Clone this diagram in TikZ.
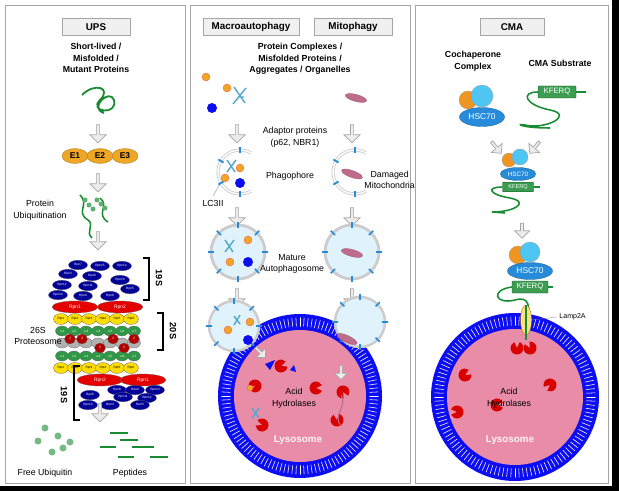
\documentclass[tikz,border=0pt]{standalone}
\usepackage{fontspec}
\setmainfont{Liberation Sans}
\usetikzlibrary{shapes.geometric, shapes.arrows, shapes.misc, positioning}
\definecolor{ubgreen}{rgb}{0.10,0.55,0.20}
\definecolor{eorange}{rgb}{0.93,0.65,0.15}
\definecolor{hscblue}{rgb}{0.15,0.55,0.85}
\definecolor{lysopink}{rgb}{0.91,0.55,0.66}
\definecolor{memblue}{rgb}{0.05,0.05,0.95}
\definecolor{vesicle}{rgb}{0.88,0.95,0.99}
\definecolor{mitopink}{rgb}{0.75,0.42,0.55}

\begin{document}
\begin{tikzpicture}[x=0.05cm, y=-0.05cm]
\tikzstyle{panel} = [draw=gray!70, fill=white, line width=1pt]
\tikzstyle{header} = [draw=gray!70, fill=gray!12, line width=1pt, font=\fontsize{14}{16}\selectfont\bfseries, minimum height=0.85cm, inner sep=1pt]
\tikzstyle{headline} = [font=\fontsize{12.5}{16.5}\selectfont\bfseries, align=center]
\tikzstyle{txt} = [font=\fontsize{12.5}{16.5}\selectfont, align=center]
\tikzstyle{flow} = [single arrow, draw=gray!70, line width=1pt, fill=gray!15, rotate=270, minimum height=0.9cm, minimum width=0.8cm, single arrow head extend=0.07cm, inner sep=0pt]
\tikzstyle{enzyme} = [ellipse, draw=eorange!70!black, fill=eorange, minimum width=1.3cm, minimum height=0.75cm, inner sep=0pt, font=\fontsize{12}{13}\selectfont\bfseries]
\tikzstyle{sub} = [ellipse, draw=black!60, minimum width=0.95cm, minimum height=0.48cm, inner sep=0pt, font=\fontsize{4.5}{5}\selectfont, text=white]
\tikzstyle{hsc} = [ellipse, draw=hscblue!60!black, fill=hscblue, text=white, font=\fontsize{12}{13}\selectfont]
\tikzstyle{kferq} = [rectangle, rounded corners=1pt, draw=ubgreen!60!black, fill=ubgreen!85, text=white, font=\fontsize{11}{12}\selectfont]
\tikzstyle{polypep} = [ubgreen, line width=2.2pt]
\tikzstyle{bracket} = [black, line width=1.5pt]
\tikzstyle{vesmem} = [draw=gray!40, fill=vesicle, line width=1pt]
\tikzstyle{mitoch} = [ellipse, draw=mitopink!80!black, fill=mitopink, inner sep=0pt]

% background and panels
\fill[black] (0,0) rectangle (619,491);
\fill[white] (0,0) rectangle (612,486);
\draw[panel] (5,5) rectangle (185,483);
\draw[panel] (190,5) rectangle (410,483);
\draw[panel] (415,5) rectangle (608,483);

% ---------------- UPS ----------------
\node[header, minimum width=3.4cm] (ups) at (96,27) {UPS};
\node[headline] (substr) at (96,58) {Short-lived /\\Misfolded /\\Mutant Proteins};
\draw[polypep, line width=2.6pt] (82,95) .. controls (95,82) and (112,88) .. (100,100) .. controls (88,112) and (118,116) .. (114,100) .. controls (110,88) and (88,108) .. (104,113);
\node[flow] (a1) at (98,133) {};
\node[enzyme] (e1) at (75,156) {E1};
\node[enzyme] (e2) at (100,156) {E2};
\node[enzyme] (e3) at (125,156) {E3};
\node[flow] (a2) at (98,182) {};
\node[txt] (ubq) at (40,210) {Protein\\Ubiquitination};
\draw[polypep] (80,195) .. controls (90,205) and (75,212) .. (88,220) .. controls (95,225) and (85,232) .. (92,238);
\draw[polypep] (100,198) .. controls (110,206) and (95,214) .. (108,222);
\foreach \p in {(85,200),(89,205),(93,209),(97,200),(101,204),(105,208)}
  \fill[ubgreen!70] \p circle (2.5);
\node[flow] (a3) at (98,240) {};
% 19S lid (top)
\foreach \x/\y/\t in {78/265/Rpn7, 100/266/Rpn15, 122/266/Rpn13, 68/274/Rpn3, 92/276/Rpn6, 120/280/Rpn10, 62/285/Rpn12, 88/286/Rpn11, 130/289/Rpn5, 58/295/Rpn10, 83/296/Rpn9, 110/296/Rpn8}
  \node[sub, fill=blue!60!black] at (\x,\y) {\t};
\node[sub, fill=red!90!black, minimum width=2.3cm, minimum height=0.6cm, font=\fontsize{7}{7}\selectfont] (rpn1) at (75,307) {Rpn1};
\node[sub, fill=red!90!black, minimum width=2.3cm, minimum height=0.6cm, font=\fontsize{7}{7}\selectfont] (rpn2) at (120,307) {Rpn2};
% 20S core
\foreach \i in {1,...,6} {
  \node[sub, fill=yellow!80!orange, minimum width=0.75cm, minimum height=0.55cm, text=black] at (47+\i*14,319) {Rpt\i};
  \node[sub, fill=yellow!80!orange, minimum width=0.75cm, minimum height=0.55cm, text=black] at (47+\i*14,368) {Rpt\i};
}
\foreach \i in {1,...,7} {
  \node[sub, fill=ubgreen!90, minimum width=0.65cm, minimum height=0.5cm] at (50+\i*12,331) {$\alpha$\i};
  \node[sub, fill=ubgreen!90, minimum width=0.65cm, minimum height=0.5cm] at (50+\i*12,356) {$\alpha$\i};
  \node[sub, fill=gray!60, minimum width=0.65cm, minimum height=0.5cm] at (50+\i*12,343) {};
}
\foreach \x in {70,82,113,134}
  \node[sub, fill=red!70!black, minimum width=0.55cm, minimum height=0.5cm] at (\x,339) {$\beta$};
\foreach \x in {100,124}
  \node[sub, fill=red!70!black, minimum width=0.55cm, minimum height=0.5cm] at (\x,348) {$\beta$};
% 19S lid (bottom)
\node[sub, fill=red!90!black, minimum width=2.3cm, minimum height=0.6cm, font=\fontsize{7}{7}\selectfont] (rpn2b) at (100,380) {Rpn2};
\node[sub, fill=red!90!black, minimum width=2.3cm, minimum height=0.6cm, font=\fontsize{7}{7}\selectfont] (rpn1b) at (143,380) {Rpn1};
\foreach \x/\y/\t in {117/390/Rpn8, 135/390/Rpn9, 155/390/Rpn10, 90/395/Rpn6, 123/397/Rpn11, 147/398/Rpn12, 88/405/Rpn13, 110/405/Rpn3, 140/405/Rpn5}
  \node[sub, fill=blue!60!black] at (\x,\y) {\t};
\draw[bracket] (143,258) -- (149,258) -- (149,300) -- (143,300);
\node[rotate=270, font=\fontsize{13}{14}\selectfont\bfseries] (s19a) at (159,278) {19S};
\draw[bracket] (157,313) -- (163,313) -- (163,350) -- (157,350);
\node[rotate=270, font=\fontsize{13}{14}\selectfont\bfseries] (s20) at (173,331) {20S};
\draw[bracket] (80,366) -- (74,366) -- (74,420) -- (80,420);
\node[rotate=270, font=\fontsize{13}{14}\selectfont\bfseries] (s19b) at (64,395) {19S};
\node[txt] (p26) at (38,336) {26S\\Proteosome};
\node[flow] (a4) at (100,412) {};
% products
\foreach \p in {(45,428),(58,436),(38,441),(70,442),(52,452),(63,448)}
  \fill[ubgreen!60] \p circle (3.5);
\foreach \x/\y/\l in {110/433/18, 120/440/18, 100/447/16, 132/447/22, 118/457/16, 150/457/18}
  \draw[ubgreen, line width=2.5pt] (\x,\y) -- ++(\l,0);
\node[txt] (freeub) at (45,473) {Free Ubiquitin};
\node[txt] (pept) at (130,473) {Peptides};

% ---------------- Macroautophagy / Mitophagy ----------------
\node[header, minimum width=4.8cm] (macro) at (251,27) {Macroautophagy};
\node[header, minimum width=3.9cm] (mito) at (353,27) {Mitophagy};
\node[headline] (cargo) at (300,59) {Protein Complexes /\\Misfolded Proteins /\\Aggregates / Organelles};
\fill[eorange, draw=red!70] (206,77) circle (4);
\fill[eorange, draw=red!70] (227,88) circle (4);
\fill[memblue] (212,108) circle (5);
\draw[cyan!60!gray, line width=2pt] (234,87) -- (245,103) (246,88) -- (233,104) (238,97) -- (244,97);
\node[mitoch, rotate=-15, minimum width=1.1cm, minimum height=0.35cm] (mito1) at (356,98) {};
\node[flow] (b1) at (237,133) {};
\node[flow] (c1) at (352,133) {};
\node[txt] (adapt) at (295,137) {Adaptor proteins\\(p62, NBR1)};
% phagophores
\draw[gray!40, line width=4.5pt] (240,172) ++(-60:22) arc (-60:-300:22);
\draw[white, line width=2pt] (240,172) ++(-60:22) arc (-60:-300:22);
\draw[gray!40, line width=4.5pt] (355,172) ++(-60:22) arc (-60:-300:22);
\draw[white, line width=2pt] (355,172) ++(-60:22) arc (-60:-300:22);
\foreach \a in {-90,-150,-210,-270} {
  \draw[hscblue, line width=2.5pt] (240,172) ++(\a:19) -- ++(\a:6);
  \draw[hscblue, line width=2.5pt] (355,172) ++(\a:19) -- ++(\a:6);
}
\fill[eorange, draw=red!70] (240,168) circle (4);
\fill[eorange, draw=red!70] (225,178) circle (4);
\fill[memblue] (240,183) circle (5);
\draw[cyan!60!gray, line width=2pt] (227,160) -- (235,172) (236,160) -- (227,172);
\node[mitoch, rotate=-20, minimum width=1.1cm, minimum height=0.35cm] (mito2) at (352,174) {};
\node[txt] (phago) at (290,176) {Phagophore};
\node[txt, anchor=west] (dmito) at (362,180) {Damaged\\Mitochondria};
\node[txt] (lc3) at (213,203) {LC3II};
\draw[gray] (213,196) -- (220,184);
\node[flow] (b2) at (237,216) {};
\node[flow] (c2) at (352,216) {};
% mature autophagosomes
\draw[vesmem, line width=4pt] (238,252) circle (27);
\draw[vesmem, line width=4pt] (352,252) circle (27);
\foreach \a in {0,45,...,315} {
  \draw[hscblue, line width=2.5pt] (238,252) ++(\a:24) -- ++(\a:6);
  \draw[hscblue, line width=2.5pt] (352,252) ++(\a:24) -- ++(\a:6);
}
\fill[eorange, draw=red!70] (248,240) circle (4);
\fill[eorange, draw=red!70] (230,262) circle (4);
\fill[memblue] (248,262) circle (5);
\draw[cyan!60!gray, line width=2pt] (225,240) -- (233,252) (234,240) -- (225,252);
\node[mitoch, rotate=-15, minimum width=1.1cm, minimum height=0.35cm] (mito3) at (352,253) {};
\node[txt] (mature) at (292,264) {Mature\\Autophagosome};
\node[flow] (b3) at (237,297) {};
\node[flow] (c3) at (352,297) {};
% lysosome (middle)
\fill[memblue] (300,396) circle (82);
\foreach \a in {0,3,...,357}
  \draw[white, line width=0.8pt] (300,396) ++(\a:69) -- ++(\a:11);
\foreach \a in {0,3,...,357} {
  \fill[memblue] (300,396) ++(\a:80) circle (1.8);
  \fill[memblue] (300,396) ++(\a:68) circle (1.8);
}
\fill[lysopink] (300,396) circle (66);
% fused autophagosomes
\draw[vesmem, line width=3.5pt] (234,326) circle (25);
\draw[vesmem, line width=3.5pt] (360,322) circle (25);
\foreach \a in {0,45,...,315} {
  \draw[hscblue, line width=2.5pt] (234,326) ++(\a:22) -- ++(\a:6);
  \draw[hscblue, line width=2.5pt] (360,322) ++(\a:22) -- ++(\a:6);
}
\fill[lysopink] (300,396) circle (65);
\fill[eorange, draw=red!70] (228,330) circle (4);
\fill[eorange, draw=red!70] (250,322) circle (4);
\fill[memblue] (248,340) circle (5);
\draw[cyan!60!gray, line width=2pt] (234,316) -- (240,324) (240,315) -- (234,325);
\node[mitoch, rotate=-25, minimum width=1.1cm, minimum height=0.35cm] (mito4) at (347,339) {};
\node[flow, rotate=45, minimum height=0.7cm, minimum width=0.65cm] (b4) at (260,352) {};
\node[flow, minimum height=0.7cm, minimum width=0.65cm] (c4) at (341,372) {};
% hydrolases
\foreach \x/\y/\r in {281/366/20, 255/386/200, 262/425/160, 316/388/0, 343/392/300, 337/420/100} {
  \fill[red!85!black, rotate around={\r:(\x,\y)}] (\x,\y) -- +(25:6.5) arc (25:335:6.5) -- cycle;
}
\fill[memblue] (265,364) -- (275,360) -- (270,370) -- cycle;
\fill[memblue] (290,370) -- (294,365) -- (296,372) -- cycle;
\fill[eorange, draw=red!70] (250,388) circle (3);
\draw[cyan!60!gray, line width=2pt] (252,408) -- (259,418) (259,408) -- (252,418);
\draw[mitopink, line width=1.5pt] (341,395) .. controls (348,405) and (333,415) .. (340,425);
\node[txt] (acid1) at (294,398) {Acid\\Hydrolases};
\node[font=\fontsize{14}{16}\selectfont\bfseries, text=white!85!pink] (lyso1) at (298,440) {Lysosome};

% ---------------- CMA ----------------
\node[header, minimum width=3.2cm] (cma) at (512,27) {CMA};
\node[headline] (cochap) at (473,61) {Cochaperone\\Complex};
\node[headline] (cmasub) at (560,63) {CMA Substrate};
\fill[eorange!90!red, draw=black!40] (468,100) circle (9);
\fill[cyan!70, draw=black!40] (482,96) circle (11);
\node[hsc, minimum width=1.95cm, minimum height=0.95cm] (hsc1) at (482,117) {HSC70};
\node[kferq, minimum width=1.9cm, minimum height=0.6cm] (kf1) at (557,92) {KFERQ};
\draw[polypep] (kf1.east) -- ++(10,0);
\draw[polypep] (kf1.west) .. controls (520,92) and (525,105) .. (550,110) .. controls (575,115) and (545,130) .. (525,125) .. controls (515,123) and (520,128) .. (550,128);
\node[flow, rotate=40, minimum height=0.75cm, minimum width=0.7cm] (d1) at (496,147) {};
\node[flow, rotate=-40, minimum height=0.75cm, minimum width=0.7cm] (d2) at (535,147) {};
\fill[eorange!90!red, draw=black!40] (509,160) circle (7);
\fill[cyan!70, draw=black!40] (520,157) circle (8);
\node[hsc, minimum width=1.55cm, minimum height=0.65cm, font=\fontsize{9}{10}\selectfont] (hsc2) at (518,174) {HSC70};
\node[kferq, minimum width=1.55cm, minimum height=0.45cm, font=\fontsize{8}{9}\selectfont] (kf2) at (518,187) {KFERQ};
\draw[polypep] (kf2.east) -- ++(6,0);
\draw[polypep] (kf2.west) .. controls (485,187) and (490,195) .. (510,198) .. controls (530,202) and (515,212) .. (492,212) -- (505,213);
\node[flow, minimum height=0.75cm, minimum width=0.75cm] (d3) at (522,230) {};
\fill[eorange!90!red, draw=black!40] (518,255) circle (9);
\fill[cyan!70, draw=black!40] (530,252) circle (10);
\node[hsc, minimum width=1.75cm, minimum height=0.85cm] (hsc3) at (530,271) {HSC70};
\node[kferq, minimum width=1.8cm, minimum height=0.6cm] (kf3) at (530,287) {KFERQ};
\draw[polypep] (kf3.east) -- ++(5,0);
% lysosome (right)
\fill[memblue] (515,397) circle (84);
\foreach \a in {0,3,...,357}
  \draw[white, line width=0.8pt] (515,397) ++(\a:71) -- ++(\a:11);
\foreach \a in {0,3,...,357} {
  \fill[memblue] (515,397) ++(\a:82) circle (1.8);
  \fill[memblue] (515,397) ++(\a:70) circle (1.8);
}
\fill[lysopink] (515,397) circle (68);
\draw[polypep] (kf3.west) .. controls (490,290) and (495,305) .. (515,300) .. controls (530,296) and (530,305) .. (528,330);
\node[ellipse, draw=orange!60!black, fill=yellow!60!orange!50, minimum width=0.55cm, minimum height=1.5cm, inner sep=0pt] (lamp) at (526,320) {};
\draw[polypep] (526,305) -- (526,340);
\node[font=\fontsize{10}{11}\selectfont, anchor=west] (lamplbl) at (557,317) {Lamp2A};
\draw[gray] (lamp.east) -- (lamplbl.west);
\foreach \x/\y/\r in {517/348/90, 530/348/120, 465/375/30, 497/405/0, 550/385/220, 457/412/180} {
  \fill[red!85!black, rotate around={\r:(\x,\y)}] (\x,\y) -- +(25:6.5) arc (25:335:6.5) -- cycle;
}
\node[txt] (acid2) at (509,398) {Acid\\Hydrolases};
\node[font=\fontsize{14}{16}\selectfont\bfseries, text=white!85!pink] (lyso2) at (510,440) {Lysosome};
\end{tikzpicture}
\end{document}
